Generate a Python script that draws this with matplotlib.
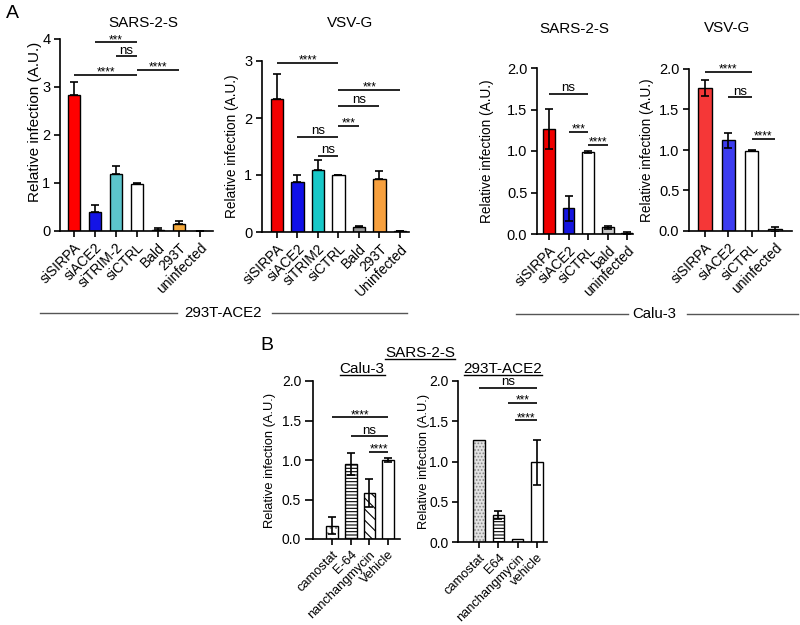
import matplotlib
matplotlib.use("Agg")
import matplotlib.pyplot as plt
from matplotlib.lines import Line2D

plt.rcParams["font.family"] = ["Liberation Sans", "DejaVu Sans"]
plt.rcParams["hatch.linewidth"] = 0.8

W, H = 800, 625

# --- A: 293T-ACE2, SARS-2-S
a1_labels = ["siSIRPA", "siACE2", "siTRIM-2", "siCTRL", "Bald", "293T", "uninfected"]
a1_vals = [2.83, 0.40, 1.18, 0.98, 0.03, 0.15, 0.0]
a1_err = [0.28, 0.15, 0.17, 0.03, 0.04, 0.06, 0.01]
a1_colors = ["#ff0000", "#1414e6", "#5cc5cc", "white", "#777777", "#f5a83a", "white"]
a1_sig = [(1, 3, 3.93, "***"), (2, 3, 3.64, "ns"), (0, 3, 3.26, "****"), (3, 5, 3.35, "****")]

# --- A: 293T-ACE2, VSV-G
a2_labels = ["siSIRPA", "siACE2", "siTRIM2", "siCTRL", "Bald", "293T", "Uninfected"]
a2_vals = [2.33, 0.87, 1.08, 1.0, 0.09, 0.93, 0.01]
a2_err = [0.44, 0.13, 0.19, 0.0, 0.02, 0.14, 0.005]
a2_colors = ["#f20000", "#1010e8", "#18c8c8", "white", "#999999", "#f7a03e", "white"]
a2_sig = [(0, 3, 2.97, "****"), (3, 6, 2.50, "***"), (3, 5, 2.21, "ns"),
          (3, 4, 1.86, "***"), (1, 3, 1.67, "ns"), (2, 3, 1.34, "ns")]

# --- A: Calu-3, SARS-2-S
a3_labels = ["siSIRPA", "siACE2", "siCTRL", "bald", "uninfected"]
a3_vals = [1.27, 0.31, 0.99, 0.08, 0.01]
a3_err = [0.24, 0.15, 0.01, 0.02, 0.01]
a3_colors = ["#f00000", "#1515e0", "white", "#c8c8c8", "white"]
a3_sig = [(0, 2, 1.69, "ns"), (1, 2, 1.23, "***"), (2, 3, 1.07, "****")]

# --- A: Calu-3, VSV-G
a4_labels = ["siSIRPA", "siACE2", "siCTRL", "uninfected"]
a4_vals = [1.77, 1.12, 0.99, 0.02]
a4_err = [0.10, 0.09, 0.005, 0.03]
a4_colors = ["#f53737", "#3c3cf0", "white", "white"]
a4_sig = [(0, 2, 1.96, "****"), (1, 2, 1.65, "ns"), (2, 3, 1.14, "****")]

# --- B: SARS-2-S, Calu-3
b1_labels = ["camostat", "E-64", "nanchangmycin", "Vehicle"]
b1_vals = [0.17, 0.95, 0.58, 1.0]
b1_err = [0.11, 0.14, 0.18, 0.03]
b1_sig = [(0, 3, 1.54, "****"), (1, 3, 1.30, "ns"), (2, 3, 1.10, "****")]

# --- B: SARS-2-S, 293T-ACE2
b2_labels = ["camostat", "E64", "nanchangmycin", "vehicle"]
b2_vals = [1.27, 0.33, 0.04, 0.99]
b2_err = [0.0, 0.05, 0.0, 0.28]
b2_sig = [(0, 3, 1.91, "ns"), (1.5, 3, 1.73, "***"), (1.85, 3, 1.51, "****")]

fig = plt.figure(figsize=(8, 6.25), dpi=100)


def px_axes(left, right, y0, ytop):
    ax = fig.add_axes([left / W, 1 - y0 / H, (right - left) / W, (y0 - ytop) / H])
    ax.px = (left, right, y0, ytop)
    return ax


def style(ax, labels, ylim, yticks, yticklabels, xlim, label_x, label_y=None,
          tfs=10.5, xfs=10, lfs=9.8):
    for s in ["top", "right"]:
        ax.spines[s].set_visible(False)
    for s in ["left", "bottom"]:
        ax.spines[s].set_linewidth(1.2)
    ax.set_xlim(*xlim)
    ax.set_ylim(*ylim)
    ax.set_yticks(yticks)
    ax.set_yticklabels(yticklabels, fontsize=tfs)
    ax.set_xticks(range(len(labels)))
    ax.set_xticklabels(labels, rotation=45, ha="right", rotation_mode="anchor", fontsize=xfs)
    ax.tick_params(width=1.2, length=4.5, pad=2.5)
    ax.set_ylabel("Relative infection (A.U.)", fontsize=lfs)
    left, right, y0, ytop = ax.px
    yc = (y0 + ytop) / 2 if label_y is None else label_y
    ax.yaxis.set_label_coords((label_x + 6 - left) / (right - left),
                              (y0 - yc) / (y0 - ytop))


def sig(ax, items):
    for x1, x2, y, lab in items:
        ax.plot([x1, x2], [y, y], color="black", lw=1.2, clip_on=False,
                solid_capstyle="butt")
        off = 2 if lab == "ns" else -0.5
        ax.annotate(lab, xy=((x1 + x2) / 2, y), xytext=(0, off),
                    textcoords="offset points", ha="center", va="baseline",
                    fontsize=9.5 if lab == "ns" else 8.5, annotation_clip=False)


def bars(ax, vals, err, colors, width, one_sided):
    x = range(len(vals))
    ax.bar(x, vals, width=width, color=colors, edgecolor="black", linewidth=1.0, zorder=2)
    yerr = [[0] * len(err), err] if one_sided else err
    ax.errorbar(x, vals, yerr=yerr, fmt="none", ecolor="black", elinewidth=1.2,
                capsize=3, capthick=1.2, zorder=3)


# A1
ax = px_axes(60, 213, 231, 39)
bars(ax, a1_vals, a1_err, a1_colors, 0.6, True)
style(ax, a1_labels, (0, 4), [0, 1, 2, 3, 4], ["0", "1", "2", "3", "4"], (-0.67, 6.62),
      36, 122, lfs=11)
sig(ax, a1_sig)

# A2
ax = px_axes(262, 409, 232, 61)
bars(ax, a2_vals, a2_err, a2_colors, 0.6, True)
style(ax, a2_labels, (0, 3), [0, 1, 2, 3], ["0", "1", "2", "3"], (-0.73, 6.44), 233)
sig(ax, a2_sig)

ticks2 = [0, 0.5, 1.0, 1.5, 2.0]
tick2_lab = ["0.0", "0.5", "1.0", "1.5", "2.0"]

# A3
ax = px_axes(537, 633, 234, 68)
bars(ax, a3_vals, a3_err, a3_colors, 0.6, False)
style(ax, a3_labels, (0, 2), ticks2, tick2_lab, (-0.61, 4.29), 488)
sig(ax, a3_sig)

# A4
ax = px_axes(689, 792, 231, 69)
bars(ax, a4_vals, a4_err, a4_colors, 0.57, False)
style(ax, a4_labels, (0, 2), ticks2, tick2_lab, (-0.69, 3.73), 648)
sig(ax, a4_sig)

# B1
ax = px_axes(313, 400, 539, 381)
x = range(len(b1_vals))
ax.bar(x[0], b1_vals[0], width=0.62, color="white", edgecolor="#888888", linewidth=0,
       hatch="...", zorder=2)
p = ax.bar(x, b1_vals, width=0.62, color="none", edgecolor="black", linewidth=1.0, zorder=2)
p[1].set_hatch("-----")
p[2].set_hatch("\\\\\\")
ax.errorbar(x, b1_vals, yerr=b1_err, fmt="none", ecolor="black", elinewidth=1.2,
            capsize=3, capthick=1.2, zorder=3)
style(ax, b1_labels, (0, 2), ticks2, tick2_lab, (-1.02, 3.64), 270, tfs=10, xfs=9.3,
      lfs=9.3)
ax.tick_params(axis="y", length=6)
sig(ax, b1_sig)

# B2
ax = px_axes(458, 547, 542, 381)
x = range(len(b2_vals))
ax.bar(x[0], b2_vals[0], width=0.6, color="#e2e2e2", edgecolor="#8a8a8a", linewidth=0,
       hatch=".....", zorder=2)
p = ax.bar(x, b2_vals, width=0.6, color="none", edgecolor="black", linewidth=1.0, zorder=2)
p[1].set_hatch("-----")
ax.errorbar([1, 3], [b2_vals[1], b2_vals[3]], yerr=[b2_err[1], b2_err[3]], fmt="none",
            ecolor="black", elinewidth=1.2, capsize=3, capthick=1.2, zorder=3)
style(ax, b2_labels, (0, 2), ticks2, tick2_lab, (-1.09, 3.52), 424, tfs=10, xfs=9.3,
      lfs=9.3)
sig(ax, b2_sig)


def ftext(x, y, s, **kw):
    return fig.text(x / W, 1 - y / H, s, ha="center", va="center", **kw)


def fline(x1, x2, y, color="#555555"):
    fig.add_artist(Line2D([x1 / W, x2 / W], [1 - y / H, 1 - y / H], color=color, lw=1,
                          transform=fig.transFigure))


ftext(12, 13, "A", fontsize=14)
ftext(267, 345, "B", fontsize=14)
ftext(143, 23, "SARS-2-S", fontsize=11)
ftext(350, 23, "VSV-G", fontsize=11)
ftext(574, 29, "SARS-2-S", fontsize=11)
ftext(727, 28, "VSV-G", fontsize=11)

ftext(223, 313, "293T-ACE2", fontsize=10.8)
fline(40, 177, 313)
fline(272, 407, 313)
ftext(654, 314, "Calu-3", fontsize=10.8)
fline(516, 628, 314)
fline(687, 798, 314)

fig.canvas.draw()
for x0, y0, s in [(420, 353, "SARS-2-S"), (362, 369, "Calu-3"), (503, 369, "293T-ACE2")]:
    t = ftext(x0, y0, s, fontsize=11)
    bb = t.get_window_extent(fig.canvas.get_renderer()).transformed(fig.transFigure.inverted())
    fig.add_artist(Line2D([bb.x0, bb.x1], [bb.y0 + 0.002, bb.y0 + 0.002], color="black",
                          lw=1, transform=fig.transFigure))

fig.savefig("out.png", dpi=100)
